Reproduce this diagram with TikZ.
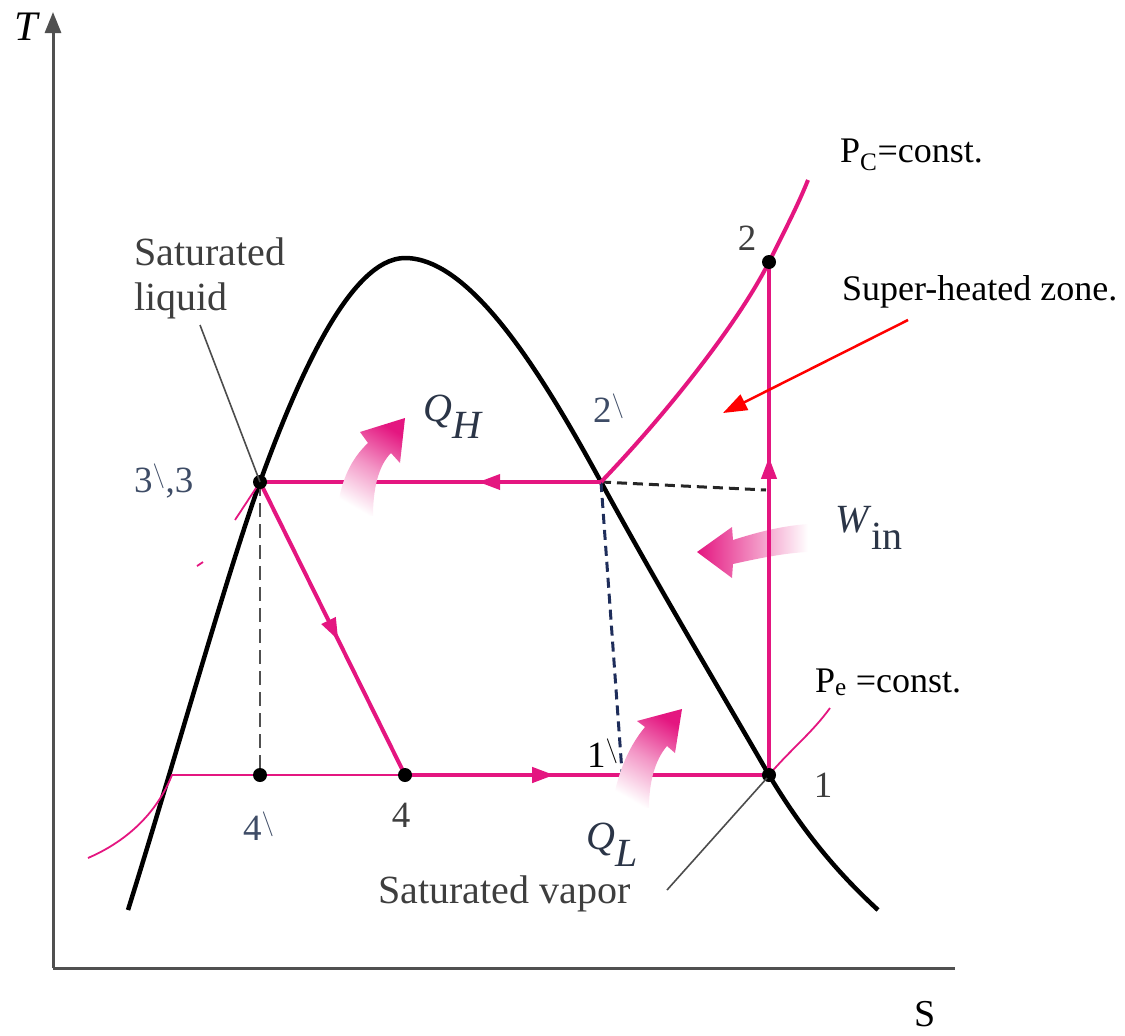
\documentclass[tikz,border=0pt]{standalone}
\usepackage{fontspec}
\setmainfont{Liberation Serif}
\newfontfamily\tnr{Liberation Serif}
\usetikzlibrary{arrows.meta,decorations.markings,calc}
\definecolor{mag}{RGB}{228,22,128}
\definecolor{lab}{RGB}{62,62,62}
\definecolor{slate}{RGB}{62,76,102}
\definecolor{navy}{RGB}{30,45,90}
\definecolor{axisgray}{RGB}{80,80,80}
\begin{document}
\begin{tikzpicture}[x=1pt,y=-1pt,
  cyc/.style={color=mag, line width=4pt},
  thinp/.style={color=mag, line width=1.8pt},
  dome/.style={black, line width=4.5pt, line join=round},
  midarr/.style={postaction={decorate},decoration={markings,mark=at position #1 with {\arrow{Triangle[length=22pt,width=15pt]}}}},
  dot/.style={circle, fill=black, inner sep=0pt, minimum size=14pt},
  lbl/.style={font=\tnr\fontsize{40}{45}\selectfont, text=lab, inner sep=0pt},
  num/.style={font=\tnr\fontsize{37}{40}\selectfont, text=lab, inner sep=0pt},
  pnum/.style={font=\tnr\fontsize{37}{40}\selectfont, text=slate, inner sep=0pt},
  qlab/.style={font=\tnr\fontsize{40}{44}\selectfont, text=slate!70!black, inner sep=0pt},
  note/.style={font=\tnr\fontsize{36}{40}\selectfont, text=black, inner sep=0pt},
  leader/.style={draw=black!70, line width=1.6pt}
]
\useasboundingbox (0,0) rectangle (1125,1036);

% points
\coordinate (p3) at (260,482);
\coordinate (p2p) at (601,482);
\coordinate (p4p) at (260,775);
\coordinate (p4) at (405,775);
\coordinate (p1) at (769,775);
\coordinate (p2) at (769,262);
\coordinate (p1p) at (622,772);
\coordinate (dend) at (766,490);
\coordinate (o) at (53,968);
\coordinate (ytip) at (53,12);
\coordinate (xend) at (955,968);

% axes
\draw[axisgray, line width=3pt, -{Triangle[length=21pt,width=16pt]}] (o) -- (ytip);
\draw[axisgray, line width=3pt] (o) -- (xend);
\node[font=\tnr\fontsize{42}{44}\selectfont\itshape, inner sep=0pt, anchor=base west] (tlab) at (14,40) {T};
\node[font=\tnr\fontsize{38}{40}\selectfont, inner sep=0pt, anchor=base] (slab) at (925,1026) {S};

% dome
\draw[dome] (128,910) .. controls (175,760) and (225,580) .. (260,482)
  .. controls (297,380) and (350,258) .. (405,258)
  .. controls (470,258) and (540,370) .. (601,482)
  .. controls (660,590) and (720,690) .. (769,775)
  .. controls (805,835) and (840,875) .. (878,910);

% thin constant pressure lines
\draw[thinp] (88,858) .. controls (125,842) and (156,815) .. (172,775) -- (p4);
\draw[thinp] (p1) .. controls (790,750) and (812,733) .. (830,708);
\draw[thinp] (p3) -- (235,520);
\draw[thinp] (197,566) -- (203,562);

% dashed lines
\draw[axisgray, line width=2.4pt, dash pattern=on 14pt off 7pt] (p3) -- (p4p);
\draw[black!85, line width=3pt, dash pattern=on 10pt off 6pt] (p2p) -- (dend);
\draw[navy, line width=3pt, dash pattern=on 10pt off 6pt] (p2p) -- (p1p);

% W_in arrow (under vertical line)
\shade[left color=mag, right color=white] (697,552) -- (732,527) -- (733,540) .. controls (755,533) and (780,526) .. (808,524) -- (808,552) .. controls (785,553) and (760,558) .. (733,564) -- (732,578) -- cycle;

% cycle
\draw[cyc, midarr=0.36] (p2p) -- (p3);
\draw[cyc, midarr=0.54] (p3) -- (p4);
\draw[cyc, midarr=0.41] (p4) -- (p1);
\draw[cyc, midarr=0.62] (p1) -- (p2);
\draw[cyc] (p2p) .. controls (670,410) and (740,320) .. (p2) .. controls (785,230) and (798,205) .. (808,180);

% heat arrows
\shade[top color=mag, bottom color=white, middle color=mag!45, shading angle=-30] (337,514) .. controls (340,480) and (352,458) .. (368,443) -- (360,432) -- (405,418) -- (400,463) -- (391,453) .. controls (378,466) and (373,490) .. (373,516) -- cycle;
\shade[top color=mag, bottom color=white, middle color=mag!45, shading angle=-30] (612,806) .. controls (618,770) and (630,745) .. (645,727) -- (637,721) -- (682,709) -- (675,753) -- (667,746) .. controls (655,760) and (649,782) .. (649,808) -- cycle;

% dots
\foreach \p in {p3,p4p,p4,p1,p2} \node[dot] at (\p) {};

% labels
\node[lbl, align=left, anchor=north west] (satliq) at (134,238) {Saturated\\liquid};
\draw[leader] (200,325) -- (p3);
\node[lbl, anchor=base west] (satvap) at (378,903) {Saturated vapor};
\draw[leader] (667,890) -- (767,778);

\node[pnum, anchor=base west] (l3) at (134,492) {3$^{\backslash}$,3};
\node[pnum, anchor=base west] (l2p) at (593,422) {2$^{\backslash}$};
\node[pnum, anchor=base west] (l4p) at (243,840) {4$^{\backslash}$};
\node[num, anchor=base west, text=black] (l1p) at (587,767) {1$^{\backslash}$};
\node[num, anchor=base] (l2) at (747,250) {2};
\node[num, anchor=base] (l1) at (823,797) {1};
\node[num, anchor=base] (l4) at (401,827) {4};

\node[qlab, anchor=base west] (qh) at (423,421) {\textit{Q}$_{\textit{H}}$};
\node[qlab, anchor=base west] (ql) at (586,849) {\textit{Q}$_{\textit{L}}$};
\node[qlab, anchor=base west] (win) at (835,532) {\textit{W}$_{\textrm{in}}$};

\node[note, anchor=base west] (pc) at (840,162) {P\textsubscript{C}=const.};
\node[note, anchor=base west] (shz) at (842,300) {Super-heated zone.};
\node[note, anchor=base west] (pe) at (815,692) {P\textsubscript{e} =const.};

\coordinate (rs) at (908,320);
\coordinate (rt) at (723,413);
\draw[red, line width=2.5pt, -{Triangle[length=24pt,width=17pt]}] (rs) -- (rt);
\end{tikzpicture}
\end{document}
